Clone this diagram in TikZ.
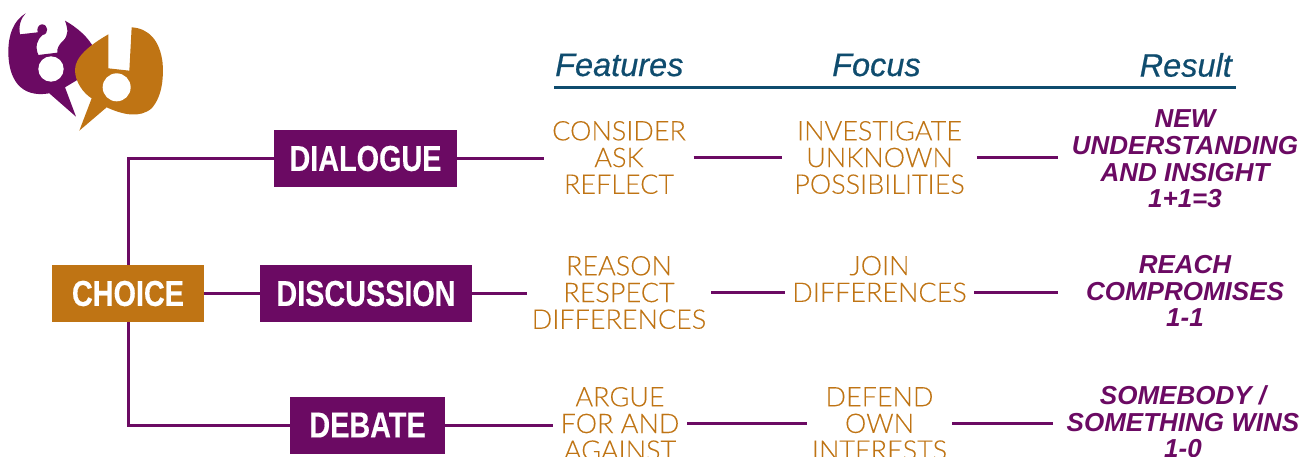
\documentclass[tikz,border=0pt]{standalone}
\usepackage{fontspec}
\setmainfont{Liberation Sans}
\newfontfamily\boxfont[FakeStretch=0.8,FakeBold=0.3]{Liberation Sans}
\newfontfamily\thinfont[UprightFont=* Light,FakeBold=0.1]{Lato}
\newfontfamily\headfont[UprightFont=* Italic,FakeBold=0.5]{Liberation Sans}
\definecolor{dlgpurple}{HTML}{6B0A63}
\definecolor{dlgorange}{HTML}{BF7414}
\definecolor{dlgblue}{HTML}{0F4C6E}
\tikzset{
  kindbox/.style={fill=#1, text=white, minimum height=57pt, inner sep=0pt,
    font=\boxfont\bfseries\fontsize{36}{36}\selectfont},
  feature/.style={text=dlgorange, align=center, inner sep=7.5pt,
    font=\thinfont\fontsize{27}{26.7}\selectfont},
  result/.style={text=dlgpurple, align=center, inner sep=0pt, minimum width=254pt,
    font=\bfseries\itshape\fontsize{26}{26.7}\selectfont},
  heading/.style={text=dlgblue, inner sep=0pt,
    font=\headfont\fontsize{32.5}{32.5}\selectfont},
  link/.style={draw=dlgpurple, line width=3pt}
}

\begin{document}
\begin{tikzpicture}[x=1pt,y=-1pt]
\clip (0,0) rectangle (1311,457);
% speech bubbles
\begin{scope}[scale=1/3]
\fill[dlgpurple] (77,40) .. controls (40,62) and (25,105) .. (25,155)
  .. controls (25,235) and (60,295) .. (148,280) -- (228,350) -- (195,262)
  -- (240,235) -- (285,150) .. controls (265,110) and (230,82) .. (195,62)
  .. controls (205,90) and (205,105) .. (190,122)
  .. controls (178,132) and (170,145) .. (172,158) -- (115,165)
  .. controls (105,140) and (110,120) .. (128,105)
  .. controls (148,102) and (145,72) .. (125,73)
  .. controls (115,75) and (110,85) .. (113,97) -- (60,103)
  .. controls (55,80) and (62,55) .. (77,40) -- cycle;
\fill[white] (153,207) circle[radius=38];
\fill[white] (228,262) -- (240,235) -- (290,200) -- (275,295) -- cycle;
\fill[dlgorange] (325,103) .. controls (270,135) and (225,170) .. (225,210)
  .. controls (225,245) and (250,280) .. (275,295) -- (238,392) -- (320,322)
  .. controls (370,345) and (420,355) .. (455,325)
  .. controls (490,285) and (490,225) .. (488,190)
  .. controls (480,120) and (445,85) .. (395,82) -- (388,212) -- (325,205) -- cycle;
\fill[white] (350,262) circle[radius=42];
\end{scope}
% headings
\node[heading, anchor=west] (features) at (555,65) {Features};
\node[heading, anchor=west] (focus) at (832,65) {Focus};
\node[heading, anchor=east] (outcome) at (1232,65) {Result};
\coordinate (ruleL) at (554,88);
\coordinate (ruleR) at (1236,88);
\draw[draw=dlgblue, line width=3pt] (ruleL) -- (ruleR);
% boxes
\node[kindbox=dlgorange, minimum width=152pt] (choice) at (128,293.5) {CHOICE};
\node[kindbox=dlgpurple, minimum width=183pt] (dialogue) at (365.5,158.5) {DIALOGUE};
\node[kindbox=dlgpurple, minimum width=212pt] (discussion) at (366,293.5) {DISCUSSION};
\node[kindbox=dlgpurple, minimum width=155pt] (debate) at (367.5,425) {DEBATE};
% first row
\node[feature] (feat1) at (619,157.5) {CONSIDER\\ASK\\REFLECT};
\node[feature, inner xsep=12pt] (foc1) at (879.5,157.5) {INVESTIGATE\\UNKNOWN\\POSSIBILITIES};
\node[result] (res1) at (1185,159) {NEW\\UNDERSTANDING\\AND INSIGHT\\1+1=3};
% second row
\node[feature, inner xsep=5pt] (feat2) at (619,292.5) {REASON\\RESPECT\\DIFFERENCES};
\node[feature] (foc2) at (879.5,279) {JOIN\\DIFFERENCES};
\node[result] (res2) at (1185,291) {REACH\\COMPROMISES\\1-1};
% third row
\node[feature] (feat3) at (620,423.5) {ARGUE\\FOR AND\\AGAINST};
\node[feature, inner xsep=5pt] (foc3) at (879.5,423.5) {DEFEND\\OWN\\INTERESTS};
\node[result, minimum width=260pt] (res3) at (1183,422) {SOMEBODY /\\SOMETHING WINS\\1-0};
% connectors
\draw[link] (choice) -- (discussion);
\draw[link] (choice.north) |- (dialogue);
\draw[link] (choice.south) |- (debate);
\foreach \a/\b in {dialogue/feat1, feat1/foc1, foc1/res1,
    discussion/feat2, debate/feat3, feat3/foc3, foc3/res3} {
  \draw[link] (\a.east) -- (\b.west |- \a.east);
}
\coordinate (mid2) at (foc2.west |- feat2);
\coordinate (mid2r) at (foc2.east |- feat2);
\draw[link] (feat2.east) -- (mid2);
\draw[link] (mid2r) -- (res2.west |- mid2r);
\end{tikzpicture}
\end{document}
